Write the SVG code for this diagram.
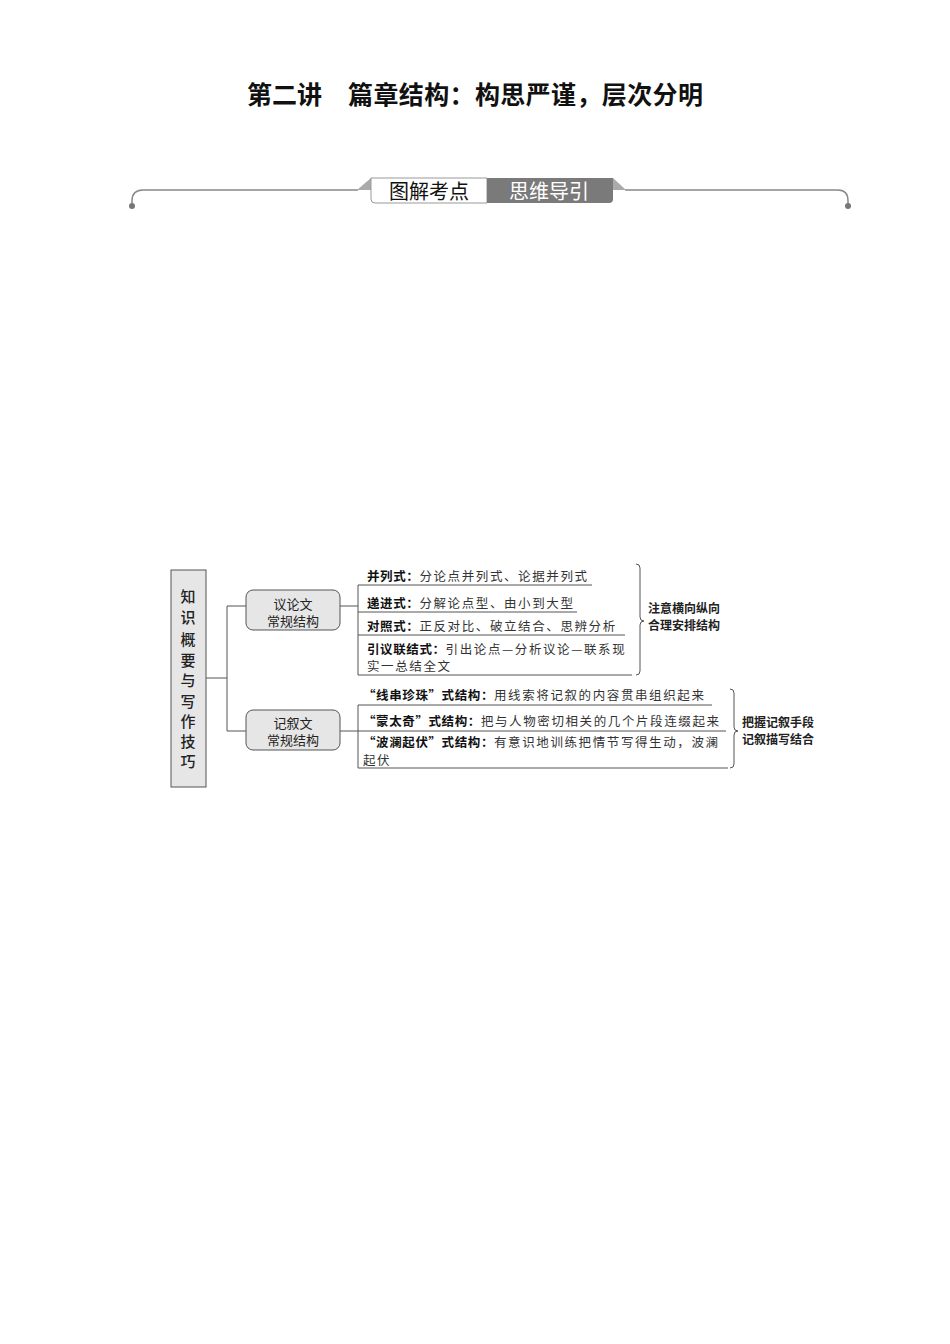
<svg xmlns="http://www.w3.org/2000/svg" width="950" height="1344" viewBox="0 0 950 1344">
<style>
.title{font-family:"Noto Sans CJK SC","Liberation Sans",sans-serif;font-weight:700;font-size:25px;fill:#111}
.tab{font-family:"Noto Sans CJK SC",sans-serif;font-size:20px}
.ln{stroke:#555;stroke-width:1;fill:none}
.box{fill:#e6e6e6;stroke:#555;stroke-width:1}
.vt{font-family:"Noto Sans CJK SC",sans-serif;font-size:15px;font-weight:500;fill:#222;text-anchor:middle}
.nt{font-family:"Noto Sans CJK SC",sans-serif;font-size:13px;fill:#222;text-anchor:middle}
.row{font-family:"Noto Sans CJK SC",sans-serif;font-size:12.5px;fill:#333;letter-spacing:1.6px}
.b{font-weight:700;fill:#111;letter-spacing:0.6px}
.note{font-family:"Noto Sans CJK SC",sans-serif;font-size:12px;font-weight:700;fill:#222}
.hdr{stroke:#888;stroke-width:1.5;fill:none}
</style>

<g id="title">
<text class="title" x="247" y="104">第二讲</text>
<text class="title" x="348" y="104" textLength="355" lengthAdjust="spacing">篇章结构：构思严谨，层次分明</text>
</g>

<g id="header">
<path class="hdr" d="M132,204 L132,201 Q132,190 143,190 L358,190"/>
<path class="hdr" d="M625,190 L838,190 Q848,190 848,201 L848,204"/>
<circle cx="132" cy="206" r="3" fill="#777"/>
<circle cx="848" cy="206" r="3" fill="#777"/>
<polygon points="357,190 371,178 371,190" fill="#aaa"/>
<polygon points="613,178 626,190 613,190" fill="#aaa"/>
<path d="M371,178 L487,178 L487,203 L375,203 Q371,203 371,199 Z" fill="#fff" stroke="#999" stroke-width="1"/>
<path d="M487,178 L613,178 L613,199 Q613,203 609,203 L487,203 Z" fill="#7a7a7a"/>
<text class="tab" x="429" y="199" text-anchor="middle" fill="#111">图解考点</text>
<text class="tab" x="549" y="199" text-anchor="middle" fill="#fff">思维导引</text>
</g>

<g id="connectors">
<path class="ln" d="M206,678 H227 M227,606 V731 M227,606 H246 M227,731 H246"/>
<path class="ln" d="M340,606 H358"/>
<path class="ln" d="M340,731 H358"/>
<path class="ln" d="M358,585 V675 M358,585 H592 M358,612 H577 M358,635 H625 M358,675 H632"/>
<path class="ln" d="M358,705 V768 M358,705 H712 M358,731 H726 M358,768 H728"/>
<path class="ln" d="M636,564 Q640,564 640,568 L640,617 Q640,621 644,621 Q640,621 640,625 L640,671 Q640,675 636,675"/>
<path class="ln" d="M730,689 Q734,689 734,693 L734,727 Q734,731 738,731 Q734,731 734,735 L734,764 Q734,768 730,768"/>
</g>

<g id="root">
<rect class="box" x="171" y="570" width="35" height="217"/>
<text class="vt" x="188" y="602">知</text>
<text class="vt" x="188" y="623">识</text>
<text class="vt" x="188" y="645">概</text>
<text class="vt" x="188" y="666">要</text>
<text class="vt" x="188" y="686">与</text>
<text class="vt" x="188" y="707">写</text>
<text class="vt" x="188" y="727">作</text>
<text class="vt" x="188" y="747">技</text>
<text class="vt" x="188" y="767">巧</text>
</g>

<g id="node-yilunwen">
<rect class="box" x="246" y="590" width="94" height="40" rx="7"/>
<text class="nt" x="293" y="609">议论文</text>
<text class="nt" x="293" y="626">常规结构</text>
</g>

<g id="node-jixuwen">
<rect class="box" x="246" y="710" width="94" height="40" rx="7"/>
<text class="nt" x="293" y="728">记叙文</text>
<text class="nt" x="293" y="745">常规结构</text>
</g>

<g id="rows-yilunwen">
<text class="row" x="367" y="581"><tspan class="b">并列式：</tspan>分论点并列式、论据并列式</text>
<text class="row" x="367" y="608"><tspan class="b">递进式：</tspan>分解论点型、由小到大型</text>
<text class="row" x="367" y="631"><tspan class="b">对照式：</tspan>正反对比、破立结合、思辨分析</text>
<text class="row" x="367" y="654"><tspan class="b">引议联结式：</tspan>引出论点—分析议论—联系现</text>
<text class="row" x="367" y="671">实一总结全文</text>
</g>

<g id="note-yilunwen">
<text class="note" x="648" y="613">注意横向纵向</text>
<text class="note" x="648" y="630">合理安排结构</text>
</g>

<g id="rows-jixuwen">
<text class="row" x="363" y="700"><tspan class="b">“线串珍珠”式结构：</tspan>用线索将记叙的内容贯串组织起来</text>
<text class="row" x="363" y="726"><tspan class="b">“蒙太奇”式结构：</tspan>把与人物密切相关的几个片段连缀起来</text>
<text class="row" x="363" y="747"><tspan class="b">“波澜起伏”式结构：</tspan>有意识地训练把情节写得生动，波澜</text>
<text class="row" x="363" y="765">起伏</text>
</g>

<g id="note-jixuwen">
<text class="note" x="742" y="727">把握记叙手段</text>
<text class="note" x="742" y="744">记叙描写结合</text>
</g>
</svg>
